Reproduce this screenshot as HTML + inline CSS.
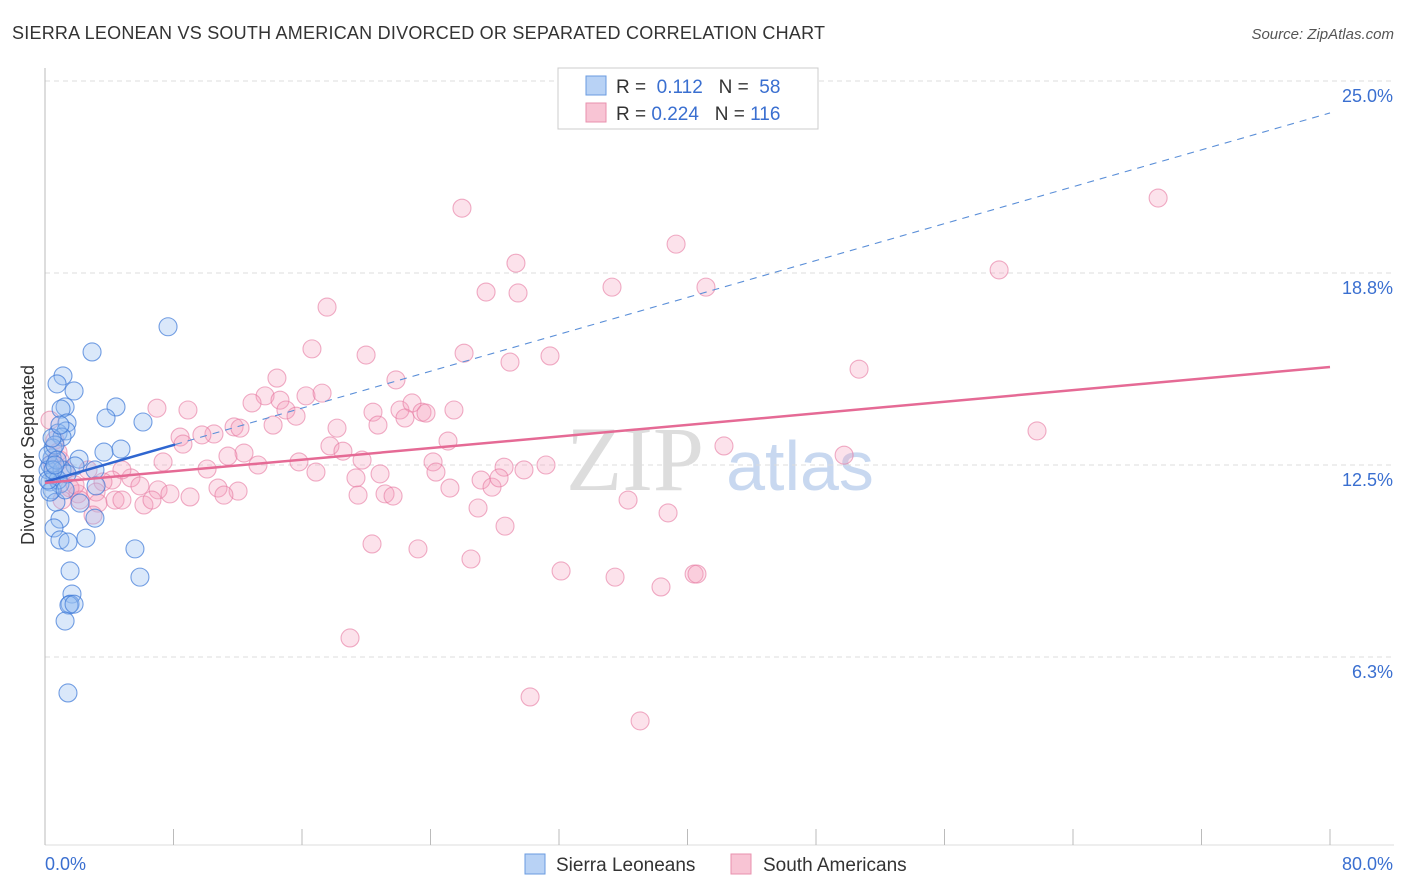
<!DOCTYPE html>
<html><head><meta charset="utf-8"><style>
body{margin:0;background:#fff;font-family:"Liberation Sans",sans-serif;}
svg{display:block}
</style></head><body>
<svg width="1406" height="892" xmlns="http://www.w3.org/2000/svg">
<text x="12" y="39" font-size="18" fill="#333" textLength="813">SIERRA LEONEAN VS SOUTH AMERICAN DIVORCED OR SEPARATED CORRELATION CHART</text>
<text x="1394" y="39" font-size="15" fill="#555" font-style="italic" text-anchor="end">Source: ZipAtlas.com</text>
<g>
<text x="635" y="490" font-size="92" fill="#ddd" font-family="Liberation Serif" text-anchor="middle">ZIP</text>
<text x="800" y="490" font-size="70" fill="#c8d8f0" text-anchor="middle">atlas</text>
</g>
<g id="grid"></g>
<g id="axes"></g>
<g id="marks"></g>
<text transform="translate(34,455) rotate(-90)" font-size="18" fill="#333" text-anchor="middle">Divorced or Separated</text>
<g>
<rect x="558" y="68" width="260" height="61" fill="#fff" stroke="#ccc"/>
<rect x="586" y="76" width="20" height="19" fill="#b8d2f5" stroke="#6a9be0"/>
<rect x="586" y="103" width="20" height="19" fill="#f8c4d4" stroke="#e891ae"/>
<text x="616" y="93" font-size="19" fill="#333">R = <tspan fill="#3a6fd0">&#160;0.112</tspan>&#160;&#160;&#160;N = <tspan fill="#3a6fd0">&#160;58</tspan></text>
<text x="616" y="120" font-size="19" fill="#333">R = <tspan fill="#3a6fd0">0.224</tspan>&#160;&#160;&#160;N = <tspan fill="#3a6fd0">116</tspan></text>
</g>
<g>
<rect x="525" y="854" width="20" height="20" fill="#b8d2f5" stroke="#6a9be0"/>
<text x="556" y="871" font-size="19" fill="#333">Sierra Leoneans</text>
<rect x="731" y="854" width="20" height="20" fill="#f8c4d4" stroke="#e891ae"/>
<text x="763" y="871" font-size="19" fill="#333">South Americans</text>
</g>
</svg>
<script>
const yTicks=[25,18.75,12.5,6.25];
const yTickLabels=["25.0%","18.8%","12.5%","6.3%"];
const xTickLabels=["0.0%","80.0%"];
const blueX=[7.66,2.93,1.12,0.75,1.81,1.25,4.42,1.00,3.80,6.10,1.37,0.81,1.31,1.06,4.73,3.67,2.12,0.44,0.31,1.87,3.11,0.19,0.62,0.31,0.93,3.18,0.44,2.18,0.68,0.93,3.11,0.56,0.93,1.43,2.55,5.60,1.56,5.91,1.68,1.56,1.49,1.81,1.25,1.43,0.50,0.19,0.62,1.06,0.81,0.31,1.37,0.44,0.93,0.75,0.19,1.25,0.50,0.62];
const blueY=[17.0,16.18,15.40,15.14,14.91,14.39,14.39,14.32,14.03,13.90,13.87,13.54,13.61,13.41,13.02,12.92,12.69,12.73,12.50,12.47,12.34,12.34,12.14,11.95,11.88,11.82,11.69,11.26,11.29,10.74,10.77,10.45,10.06,9.99,10.12,9.77,9.05,8.85,8.30,7.97,7.94,7.97,7.42,5.08,13.05,12.82,13.15,12.34,12.01,11.62,12.21,13.38,13.80,12.66,12.01,11.69,12.34,12.50];
const pinkX=[25.96,69.30,39.29,29.32,27.46,29.45,35.30,41.15,59.40,17.56,16.62,19.99,26.09,28.95,31.44,50.68,14.44,21.85,13.70,12.89,14.63,16.25,17.25,6.97,8.90,15.00,15.63,20.42,22.10,22.85,23.47,23.72,25.46,14.20,11.77,10.52,12.14,18.18,20.73,22.41,8.41,9.77,8.59,12.39,17.74,18.55,25.09,61.76,42.27,49.75,7.35,10.09,11.39,13.26,15.81,16.87,19.36,20.86,19.74,24.16,24.34,28.58,31.19,29.82,27.15,27.83,28.27,25.21,19.49,21.17,21.67,5.35,5.91,7.04,7.78,9.03,10.77,12.02,11.14,4.79,4.17,3.61,3.18,2.05,1.56,0.93,1.25,2.18,3.30,4.36,6.16,6.66,4.79,26.96,36.30,38.79,2.99,28.64,20.36,23.22,26.52,32.13,35.49,40.41,40.59,38.35,18.99,30.20,37.05,0.31,0.62,0.81,0.44,1.06,2.68,1.87];
const pinkY=[20.86,21.19,19.69,19.07,18.13,18.10,18.29,18.29,18.85,17.64,16.28,16.08,16.14,15.85,16.05,15.62,15.33,15.27,14.75,14.52,14.61,14.75,14.84,14.35,14.29,14.29,14.09,14.22,14.29,14.52,14.22,14.19,14.29,13.80,13.74,13.51,13.70,13.70,13.80,14.03,13.41,13.48,13.18,12.89,13.12,12.95,13.28,13.61,13.12,12.82,12.60,12.37,12.79,12.50,12.60,12.27,12.08,12.21,12.66,12.60,12.27,12.43,12.50,12.34,12.01,11.78,12.08,11.75,11.52,11.56,11.49,12.08,11.82,11.69,11.56,11.46,11.75,11.65,11.52,12.34,12.01,11.95,11.62,11.56,11.75,12.66,12.34,11.36,11.26,11.36,11.20,11.36,11.36,11.10,11.36,10.94,10.87,10.51,9.93,9.77,9.44,9.05,8.85,8.95,8.95,8.53,6.87,4.95,4.17,13.96,13.31,12.92,12.56,11.36,12.34,11.85];
const pinkTrend=[11.92,15.69];
const blueTrend=[11.95,23.96];
const blueSolidEnd=8.1;
const NS="http://www.w3.org/2000/svg";
const X0=45,X1=1330,Y0=849,PPY=30.72;
const xs=v=>X0+(X1-X0)*v/80;
const ys=v=>Y0-v*PPY;
function mk(t,a,p){const e=document.createElementNS(NS,t);for(const k in a)e.setAttribute(k,a[k]);p.appendChild(e);return e;}
const grid=document.getElementById('grid'),axes=document.getElementById('axes'),marks=document.getElementById('marks');
yTicks.forEach((t,i)=>{
 const l=mk('line',{x1:X0,x2:1394,y1:ys(t),y2:ys(t),stroke:'#ddd','stroke-dasharray':'5,4'},grid);
 
 
 const tx=mk('text',{x:1393,y:ys(t)+21,'font-size':18,fill:'#3a6fd0','text-anchor':'end'},axes);
 tx.textContent=yTickLabels[i];
 
 
});
const ax=mk('line',{x1:X0,x2:X0,y1:68,y2:845,stroke:'#bbb'},axes);


const bx=mk('line',{x1:X0,x2:1394,y1:845,y2:845,stroke:'#ddd'},axes);


for(let v=0;v<=80;v+=8){
 const t=mk('line',{x1:xs(v),x2:xs(v),y1:829,y2:845,stroke:'#bbb'},axes);
 
 
}
[[0,'start',45],[80,'end',1393]].forEach((d,i)=>{
 const t=mk('text',{x:d[2],y:870,'font-size':18,fill:'#3a6fd0','text-anchor':d[1]},axes);
 t.textContent=xTickLabels[i];
 
 
});
pinkX.forEach((x,i)=>{
 const c=mk('circle',{cx:xs(x),cy:ys(pinkY[i]),r:9,fill:'rgba(244,160,188,0.3)',stroke:'rgba(230,120,160,0.6)','stroke-width':1.1},marks);
 
 
});
blueX.forEach((x,i)=>{
 const c=mk('circle',{cx:xs(x),cy:ys(blueY[i]),r:9,fill:'rgba(150,190,240,0.35)',stroke:'rgba(60,120,215,0.7)','stroke-width':1.1},marks);
 
 
});
const bt=v=>blueTrend[0]+(blueTrend[1]-blueTrend[0])*v/80;
const d1=mk('line',{x1:xs(blueSolidEnd),y1:ys(bt(blueSolidEnd)),x2:xs(80),y2:ys(bt(80)),stroke:'#5b8fd8','stroke-width':1.1,'stroke-dasharray':'7,6'},marks);


const s1=mk('line',{x1:xs(0),y1:ys(bt(0)),x2:xs(blueSolidEnd),y2:ys(bt(blueSolidEnd)),stroke:'#2f66d0','stroke-width':2.5},marks);


const p1=mk('line',{x1:xs(0),y1:ys(pinkTrend[0]),x2:xs(80),y2:ys(pinkTrend[1]),stroke:'#e56a95','stroke-width':2.5},marks);


</script>
</body></html>
